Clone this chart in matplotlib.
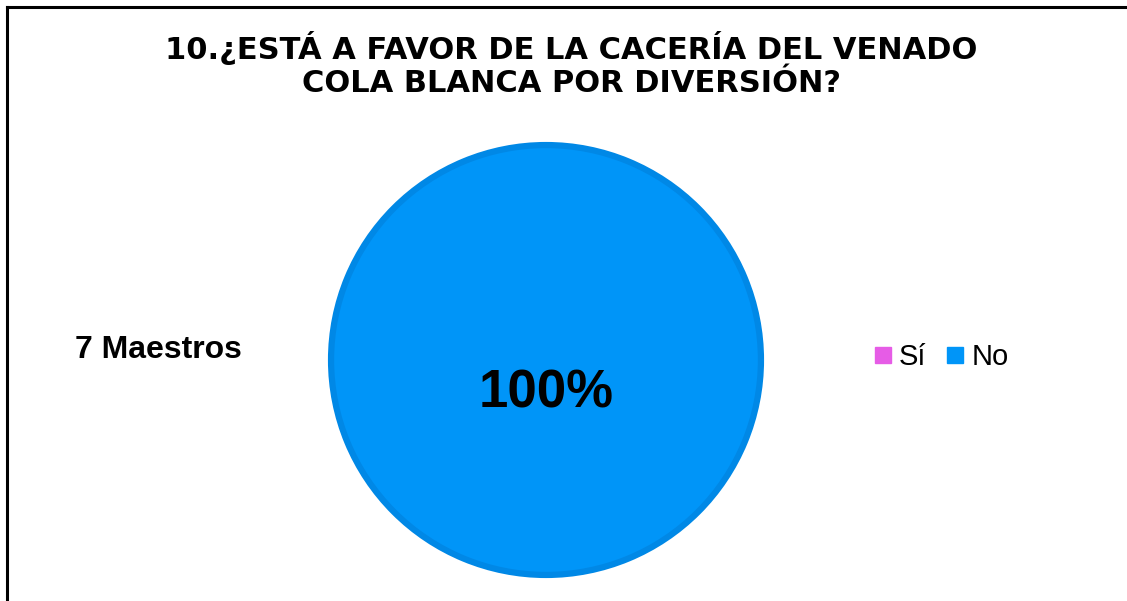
import matplotlib.pyplot as plt
from matplotlib.lines import Line2D

plt.rcParams['font.family'] = ['Liberation Sans', 'DejaVu Sans']

categories = ['Sí', 'No']
values = [0, 7]
colors = ['#E65CE6', '#0095F8']
edge_color = '#0088E6'
title = '10.¿ESTÁ A FAVOR DE LA CACERÍA DEL VENADO\nCOLA BLANCA POR DIVERSIÓN?'
note = '7 Maestros'

W, H = 1127, 601
fig = plt.figure(figsize=(W / 100, H / 100), dpi=100)

# frame: only top and left lines are visible in the original
fig.add_artist(Line2D([6.5 / W, 6.5 / W], [0, 1 - 6.5 / H], transform=fig.transFigure,
                      color='black', lw=2.2))
fig.add_artist(Line2D([6.5 / W, 1], [1 - 6.5 / H, 1 - 6.5 / H], transform=fig.transFigure,
                      color='black', lw=2.2))

# square axes holding the pie
cx, cy, r = 546, 360, 218
ax = fig.add_axes([(cx - r) / W, (H - cy - r) / H, 2 * r / W, 2 * r / H])

wedges, texts, autotexts = ax.pie(
    values, colors=colors, startangle=90, counterclock=False, radius=0.986,
    autopct=lambda p: f'{p:.0f}%' if p > 0 else '', pctdistance=0.155,
    wedgeprops=dict(edgecolor=edge_color, linewidth=4.5),
    textprops=dict(fontsize=38, fontweight='bold', color='black'))
for w, v in zip(wedges, values):
    if v == 0:
        w.set_visible(False)
ax.set_xlim(-1, 1)
ax.set_ylim(-1, 1)
ax.axis('off')

fig.text(0.507, 1 - 64.5 / H, title, ha='center', va='center', fontsize=22,
         fontweight='bold', linespacing=1.15, family=['DejaVu Sans'])
fig.text(75 / W, 1 - 350 / H, note, ha='left', va='center', fontsize=23,
         fontweight='bold')

handles = [Line2D([], [], marker='s', ls='', markersize=11.5, color=c) for c in colors]
fig.legend(handles, categories, loc='center left', bbox_to_anchor=(874 / W, 1 - 357 / H),
           ncol=2, frameon=False, fontsize=21, handlelength=0.6, handletextpad=0.25,
           columnspacing=0.7, borderpad=0, borderaxespad=0)

fig.savefig('out.png', dpi=100)
